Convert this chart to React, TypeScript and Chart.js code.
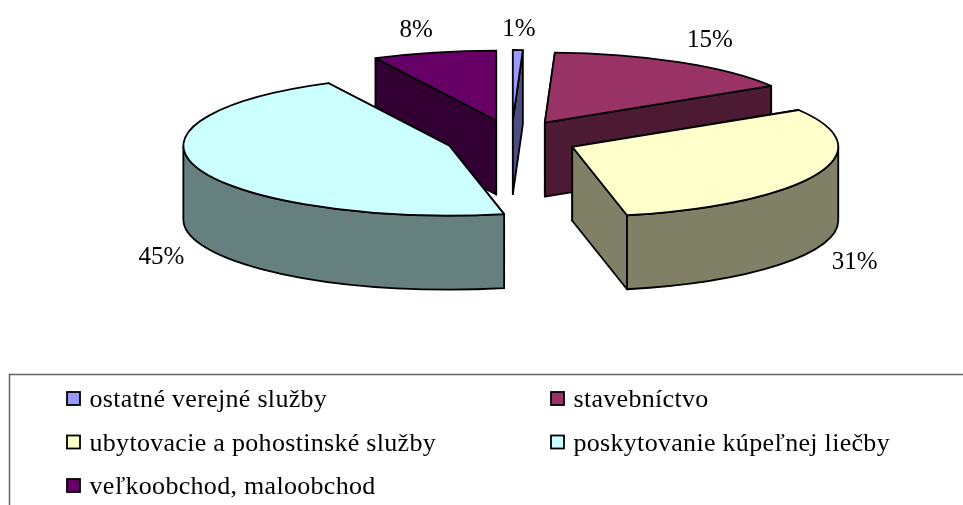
import React, { useEffect, useRef } from "react";
import { Chart, registerables } from "chart.js";

Chart.register(...registerables);

const categories = [
  "ostatné verejné služby",
  "stavebníctvo",
  "ubytovacie a pohostinské služby",
  "poskytovanie kúpeľnej liečby",
  "veľkoobchod, maloobchod",
];
const shares = [0.6, 15.6, 30.5, 45.8, 7.5];
const percentLabels = ["1%", "15%", "31%", "45%", "8%"];
const faceColors = ["#9999FF", "#993366", "#FFFFCC", "#CCFFFF", "#660066"];
const wallColors = ["#4D4D80", "#4D1A33", "#808066", "#668080", "#330033"];

// Pseudo-3D projection of the pie
const CENTER_X = 511.6;
const CENTER_Y = 139.2;
const RADIUS_X = 266;
const RADIUS_Y = 70;
const EXPLODE_X = 66;
const EXPLODE_Y = 19.2;
const DEPTH = 74;
const LABEL_NUDGE: [number, number][] = [
  [1, -14],
  [31, -15],
  [38, 95],
  [-37, 95],
  [-18, -15],
];

const FONT = '"Liberation Serif", "Times New Roman", serif';

const piePlugin = {
  id: "pie3d",
  beforeDatasetDraw(chart: any) {
    const ctx: CanvasRenderingContext2D = chart.ctx;
    const arcs = chart.getDatasetMeta(0).data as any[];
    const slices = arcs.map((arc, i) => {
      const mid = (arc.startAngle + arc.endAngle) / 2;
      return {
        arc,
        i,
        mid,
        ax: CENTER_X + EXPLODE_X * Math.cos(mid),
        ay: CENTER_Y + EXPLODE_Y * Math.sin(mid),
      };
    });
    const ordered = [...slices].sort((a, b) => a.ay - b.ay);
    ctx.save();
    ctx.lineWidth = 1.8;
    ctx.lineJoin = "round";
    ctx.strokeStyle = "#000";
    for (const s of ordered) {
      const { arc, i, ax, ay } = s;
      const a0 = arc.startAngle;
      const a1 = arc.endAngle;
      ctx.fillStyle = wallColors[i];
      for (const t of [a0, a1]) {
        const px = ax + RADIUS_X * Math.cos(t);
        const py = ay + RADIUS_Y * Math.sin(t);
        ctx.beginPath();
        ctx.moveTo(ax, ay);
        ctx.lineTo(px, py);
        ctx.lineTo(px, py + DEPTH);
        ctx.lineTo(ax, ay + DEPTH);
        ctx.closePath();
        ctx.fill();
        ctx.stroke();
      }
      // Visible part of the rim: the part of the ellipse facing the viewer
      const from = Math.max(a0, 0);
      const to = Math.min(a1, Math.PI);
      if (to > from) {
        ctx.beginPath();
        ctx.ellipse(ax, ay, RADIUS_X, RADIUS_Y, 0, from, to);
        ctx.lineTo(ax + RADIUS_X * Math.cos(to), ay + RADIUS_Y * Math.sin(to) + DEPTH);
        ctx.ellipse(ax, ay + DEPTH, RADIUS_X, RADIUS_Y, 0, to, from, true);
        ctx.closePath();
        ctx.fill();
        ctx.stroke();
      }
      // Top face: the library's arc element, projected
      ctx.save();
      ctx.translate(ax, ay);
      ctx.scale(RADIUS_X / arc.outerRadius, RADIUS_Y / arc.outerRadius);
      ctx.translate(-arc.x, -arc.y);
      arc.draw(ctx);
      ctx.restore();
      ctx.beginPath();
      ctx.moveTo(ax, ay);
      ctx.ellipse(ax, ay, RADIUS_X, RADIUS_Y, 0, a0, a1);
      ctx.closePath();
      ctx.stroke();
    }
    // Percent labels
    ctx.fillStyle = "#000";
    ctx.font = `25px ${FONT}`;
    ctx.textAlign = "center";
    ctx.textBaseline = "alphabetic";
    for (const s of slices) {
      const x = s.ax + RADIUS_X * Math.cos(s.mid) + LABEL_NUDGE[s.i][0];
      const y = s.ay + RADIUS_Y * Math.sin(s.mid) + LABEL_NUDGE[s.i][1];
      ctx.fillText(percentLabels[s.i], x, y);
    }
    ctx.restore();
    return false;
  },
  afterDraw(chart: any) {
    const ctx: any = chart.ctx;
    ctx.save();
    // Legend frame (runs off the right and bottom of the page)
    ctx.strokeStyle = "#666";
    ctx.lineWidth = 1.5;
    ctx.strokeRect(9.5, 374.5, 1000, 200);
    ctx.font = `26px ${FONT}`;
    ctx.letterSpacing = "0.3px";
    ctx.textAlign = "left";
    ctx.textBaseline = "alphabetic";
    categories.forEach((label, i) => {
      const col = i % 2;
      const row = Math.floor(i / 2);
      const boxX = col === 0 ? 67 : 551;
      const baseline = 407 + row * 43.5;
      ctx.fillStyle = faceColors[i];
      ctx.strokeStyle = "#000";
      ctx.lineWidth = 1.8;
      ctx.fillRect(boxX, baseline - 15, 13, 13);
      ctx.strokeRect(boxX, baseline - 15, 13, 13);
      ctx.fillStyle = "#000";
      ctx.fillText(label, boxX + 22.5, baseline);
    });
    ctx.restore();
  },
};

export default function App() {
  const ref = useRef<HTMLCanvasElement | null>(null);
  useEffect(() => {
    const chart = new Chart(ref.current as HTMLCanvasElement, {
      type: "pie",
      data: {
        labels: categories,
        datasets: [
          {
            data: shares,
            backgroundColor: faceColors,
            borderWidth: 0,
          },
        ],
      },
      options: {
        responsive: false,
        animation: false,
        events: [],
        layout: { padding: 0 },
        plugins: { legend: { display: false }, tooltip: { enabled: false } },
      },
      plugins: [piePlugin],
    } as any);
    return () => chart.destroy();
  }, []);
  return (
    <div style={{ position: "fixed", left: 0, top: 0, width: 963, height: 505, background: "#fff" }}>
      <canvas ref={ref} width={963} height={505} style={{ display: "block" }} />
    </div>
  );
}
